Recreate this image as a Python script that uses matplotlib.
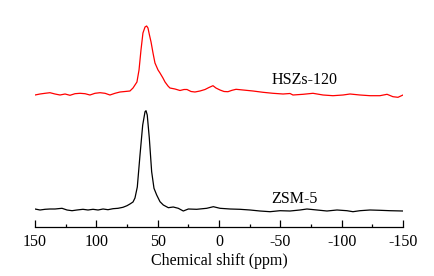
#29Si MAS NMR spectra: ZSM-5 vs HSZs-120
import numpy as np
import matplotlib
matplotlib.use('Agg')
import matplotlib.pyplot as plt
from matplotlib.ticker import MultipleLocator

plt.rcParams['font.family'] = ['Liberation Serif', 'DejaVu Serif']
plt.rcParams['axes.unicode_minus'] = False

# HSZs-120 (red), chemical shift in ppm / intensity (a.u.)
hszs_ppm = [150.0, 145.9, 141.8, 137.8, 133.7, 129.6, 125.5, 121.5, 117.4, 113.3,
            109.2, 105.2, 101.1, 97.0, 92.9, 88.9, 84.8, 80.7, 76.6, 72.6,
            70.1, 66.9, 65.2, 63.6, 62.0, 60.3, 59.0, 57.9, 56.7, 55.4,
            53.8, 52.2, 49.7, 48.1, 45.7, 44.0, 41.6, 40.0, 35.9, 31.8,
            28.5, 26.1, 22.8, 19.6, 15.5, 11.4, 8.2, 4.9, 2.5, -0.8,
            -4.1, -7.3, -10.6, -13.9, -19.6, -27.7, -35.9, -44.0, -52.2, -57.9,
            -60.3, -68.5, -76.6, -84.8, -92.9, -101.1, -106.8, -114.9, -123.1, -131.2,
            -137.0, -141.8, -145.9, -150.0]
hszs_int = [0, 1, 1.7, 2.3, 1, 0, 1, -0.3, 1.3, 1.7,
            1.3, 0, 1.7, 2.3, 1.7, 0, 1.7, 3, 3.5, 4,
            7, 13, 25, 45, 62, 68, 69, 67, 60, 53,
            42, 32, 25, 22, 17, 13, 9, 7, 6, 4.5,
            5.5, 5.5, 3.5, 3, 4, 5.5, 7.5, 9.3, 7, 5,
            3.5, 3.3, 4.7, 5.7, 5, 4, 2.7, 1.7, 1, 1.5,
            0, 0.7, 1.7, 0, -0.7, 0, 1, 0, -0.7, -0.7,
            0.7, -1.7, -2.3, 0]

# ZSM-5 (black)
zsm_ppm = [150.0, 145.9, 141.8, 137.8, 133.7, 128.0, 123.9, 119.8, 115.8, 110.9,
           106.8, 102.7, 98.6, 94.5, 90.5, 86.4, 82.3, 78.3, 75.0, 72.6,
           70.1, 68.5, 66.6, 64.4, 62.2, 60.3, 59.5, 58.5, 56.8, 54.9,
           53.0, 50.8, 48.1, 45.4, 41.3, 37.3, 33.2, 29.1, 25.0, 18.2,
           10.0, 4.6, -0.8, -9.0, -17.1, -25.3, -33.4, -41.6, -49.7, -57.9,
           -66.0, -71.7, -79.9, -88.0, -96.2, -104.3, -109.2, -114.9, -123.1, -131.2,
           -139.4, -150.0]
zsm_int = [1, 0, 0.7, 1, 1, 1.7, 0, -0.7, 0, 0.7,
           0, 0.7, 0, 1, 0.3, 1.3, 1.7, 2.7, 4.3, 6,
           8, 12, 23, 55, 85, 98.3, 99.3, 95, 71.7, 38.3,
           21.7, 15, 8.3, 5, 2.3, 3, 1.7, -1, 1, 0.7,
           1.7, 3.3, 1.7, 1, 0.7, 0, -1, -1.7, -0.7, -1,
           0, 1, 0, -1, 0, -0.7, -1.7, -0.7, 0, -0.3,
           -0.7, -1]

hszs_offset = 132
zsm_offset = 17

fig = plt.figure(figsize=(4.35, 2.76), dpi=100)
ax = fig.add_axes([35/435, 49/276, 368/435, 217/276])

ax.plot(hszs_ppm, np.array(hszs_int) + hszs_offset, color='red', lw=0.9)
ax.plot(zsm_ppm, np.array(zsm_int) + zsm_offset, color='black', lw=0.9)

ax.text(-43, 147, 'HSZs-120', fontsize=11.5, va='center', ha='left')
ax.text(-43, 28, 'ZSM-5', fontsize=11.5, va='center', ha='left')

ax.set_xlim(150, -150)
ax.set_ylim(0, 217)
for s in ['top', 'left', 'right']:
    ax.spines[s].set_visible(False)
ax.spines['bottom'].set_linewidth(0.9)
ax.set_yticks([])
ax.xaxis.set_major_locator(MultipleLocator(50))
ax.xaxis.set_minor_locator(MultipleLocator(25))
ax.tick_params(axis='x', which='major', direction='in', length=5, width=0.9,
               labelsize=11.5, pad=5)
ax.tick_params(axis='x', which='minor', direction='in', length=2.5, width=0.9)
ax.set_xlabel('Chemical shift (ppm)', fontsize=11.5, labelpad=2)

fig.savefig('out.png', dpi=100)
